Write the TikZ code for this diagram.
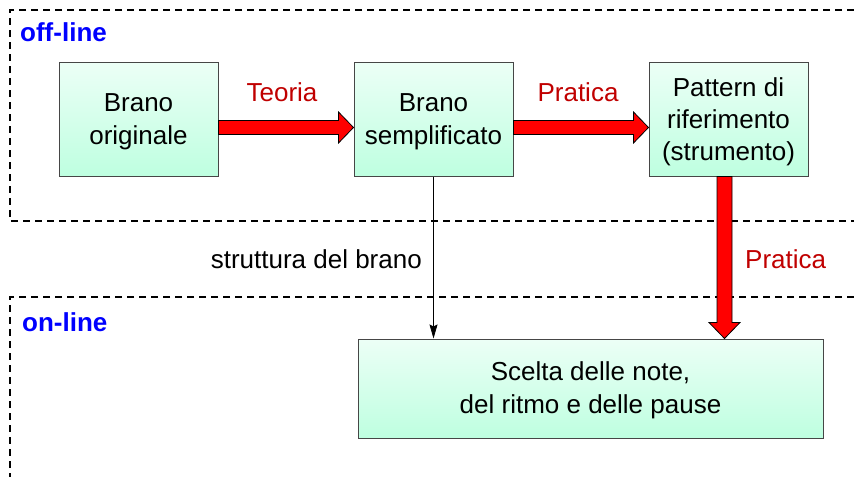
\documentclass[tikz,border=0pt]{standalone}
\usepackage{fontspec}
\setmainfont{Liberation Sans}
\usetikzlibrary{calc,arrows.meta}
\definecolor{boxtop}{RGB}{236,255,246}
\definecolor{boxbot}{RGB}{190,255,224}
\definecolor{boxline}{RGB}{70,70,70}
\definecolor{lblred}{RGB}{192,0,0}
\definecolor{lblblue}{RGB}{0,0,255}
\tikzset{
  stepbox/.style={draw=boxline, line width=1pt, top color=boxtop, bottom color=boxbot,
    minimum width=159pt, minimum height=114pt, inner sep=0pt},
  boxtext/.style={align=center, inner sep=0pt, font=\fontsize{26}{33}\selectfont},
  zone/.style={draw=black, line width=1.5pt, dash pattern=on 7pt off 5pt},
  zonelabel/.style={font=\fontsize{26}{32}\selectfont\bfseries, text=lblblue, inner sep=0pt, anchor=west},
  redlabel/.style={font=\fontsize{26}{32}\selectfont, text=lblred, inner sep=0pt},
  plainlabel/.style={font=\fontsize{26}{32}\selectfont, inner sep=0pt},
  bigarrow/.style={fill=red, draw=black, line width=0.8pt, line join=miter},
  thinarrow/.style={draw=black, line width=0.8pt, -{Stealth[length=14pt,width=8pt,inset=2pt]}}
}
\begin{document}
\begin{tikzpicture}[x=1pt,y=-1pt]
\useasboundingbox (0,0) rectangle (854,477);
% zones
\draw[zone] (854,10) -- (10,10) -- (10,221) -- (854,221);
\draw[zone] (854,297) -- (10,297) -- (10,477);
\node[zonelabel] (offl) at (20,32) {off-line};
\node[zonelabel] (onl) at (22,322) {on-line};
% boxes
\node[stepbox] (b1) at (138.5,119) {};
\node[boxtext] (t1) at ($(b1.center)+(0,3)$) {Brano\\originale};
\node[stepbox] (b2) at (433.5,119) {};
\node[boxtext] (t2) at ($(b2.center)+(0,3)$) {Brano\\semplificato};
\node[stepbox] (b3) at (728.5,119) {};
\node[boxtext, font=\fontsize{26}{32}\selectfont] (t3) at ($(b3.center)+(0,3)$) {Pattern di\\riferimento\\(strumento)};
\node[stepbox, minimum width=465pt, minimum height=99pt] (b4) at (590.5,388.5) {};
\node[boxtext] (t4) at ($(b4.center)+(0,2)$) {Scelta delle note,\\del ritmo e delle pause};
% horizontal big arrows
\coordinate (a1s) at ($(b1.east)+(0,8.5)$);
\coordinate (a1e) at ($(b2.west)+(0,8.5)$);
\draw[bigarrow] let \p1=(a1s), \p2=(a1e) in
  (\x1,\y1+7pt) -- (\x2-15pt,\y1+7pt) -- (\x2-15pt,\y1+15.5pt) -- (\x2,\y1)
  -- (\x2-15pt,\y1-15.5pt) -- (\x2-15pt,\y1-7pt) -- (\x1,\y1-7pt) -- cycle;
\coordinate (a2s) at ($(b2.east)+(0,8.5)$);
\coordinate (a2e) at ($(b3.west)+(0,8.5)$);
\draw[bigarrow] let \p1=(a2s), \p2=(a2e) in
  (\x1,\y1+7pt) -- (\x2-15pt,\y1+7pt) -- (\x2-15pt,\y1+15.5pt) -- (\x2,\y1)
  -- (\x2-15pt,\y1-15.5pt) -- (\x2-15pt,\y1-7pt) -- (\x1,\y1-7pt) -- cycle;
% vertical big arrow
\coordinate (a3s) at ($(b3.south)+(-4,0)$);
\coordinate (a3e) at (a3s |- b4.north);
\draw[bigarrow] let \p1=(a3s), \p2=(a3e) in
  (\x1-7.5pt,\y1) -- (\x1-7.5pt,\y2+16pt) -- (\x1-15.5pt,\y2+16pt) -- (\x1,\y2)
  -- (\x1+15.5pt,\y2+16pt) -- (\x1+7.5pt,\y2+16pt) -- (\x1+7.5pt,\y1) -- cycle;
% thin arrow
\draw[thinarrow] (b2.south) -- (b2.south |- b4.north);
% labels
\node[redlabel] (lteo) at (282,92) {Teoria};
\node[redlabel] (lpr1) at (578,92) {Pratica};
\node[redlabel, anchor=west] (lpr2) at (745,259) {Pratica};
\node[plainlabel, anchor=east] (lstr) at (422,259) {struttura del brano};
\end{tikzpicture}
\end{document}
